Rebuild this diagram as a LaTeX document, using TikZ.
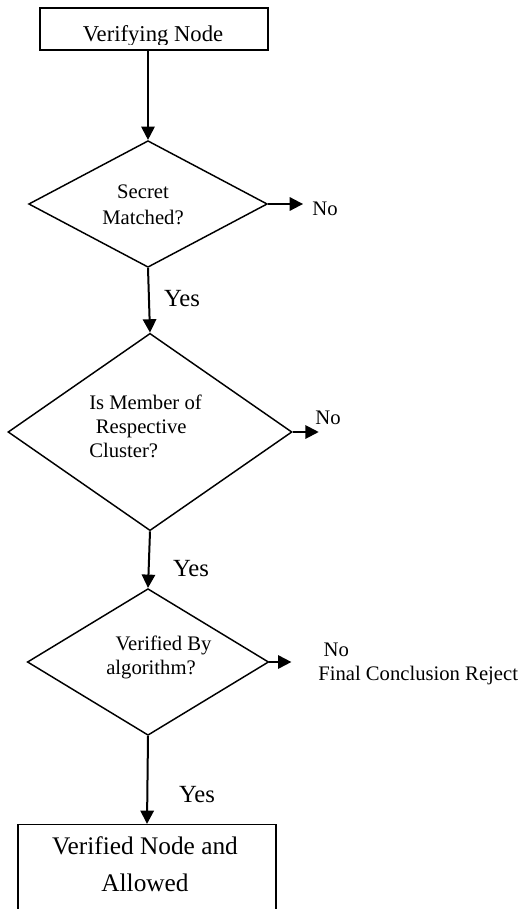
\documentclass[tikz,border=0pt]{standalone}
\usepackage{fontspec}
\setmainfont{Liberation Serif}
\usetikzlibrary{shapes.geometric,arrows.meta}

\begin{document}
\begin{tikzpicture}[x=0.75pt,y=-0.75pt,>={Triangle[length=10pt,width=10pt]},line join=miter,
	dia/.style={draw,shape=diamond,inner sep=0pt,line width=1.1pt},
	box/.style={draw,rectangle,inner sep=0pt,line width=1.1pt},
	txt/.style={font=\fontsize{15.5}{18}\selectfont,inner sep=0pt},
	yes/.style={font=\fontsize{18.5}{22}\selectfont,inner sep=0pt},
	flow/.style={->,line width=1.5pt}]
	\clip (0,0) rectangle (525,909);
	% start box, text runs under its lower edge
	\node[box,minimum width=171pt,minimum height=31.5pt] (vnode) at (154,29) {};
	\begin{scope}
		\clip (40,8) rectangle (268,45);
		\node[font=\fontsize{17}{20}\selectfont,inner sep=0pt,anchor=base] (vtext) at (153,42) {Verifying Node};
	\end{scope}
	% decisions
	\node[dia,minimum width=179pt,minimum height=95pt] (secret) at (148,204) {};
	\node[txt,align=center,font=\fontsize{15.5}{19.5}\selectfont] (secrettxt) at (143,205) {Secret\\Matched?};
	\node[dia,minimum width=213pt,minimum height=148pt] (member) at (150,432) {};
	\node[txt,align=left,anchor=west] (membertxt) at (89,426) {Is Member of\\\hspace*{5pt}Respective\\Cluster?};
	\node[dia,minimum width=181pt,minimum height=110pt] (algo) at (148,662) {};
	\node[txt,align=left,anchor=west] (algotxt) at (106,657) {\hspace*{7pt}Verified By\\algorithm?};
	% end box
	\node[box,minimum width=193.5pt,minimum height=101pt] (allowed) at (147,892) {};
	\node[inner sep=0pt,align=center,font=\fontsize{19}{27.75}\selectfont] (allowedtxt) at (145,864) {Verified Node and\\Allowed};
	% yes path
	\draw[flow] (secret.north |- vnode.south) -- (secret.north);
	\draw[flow] (secret.south) -- (member.north);
	\draw[flow] (member.south) -- (algo.north);
	\draw[flow] (algo.south) -- (allowed.north);
	\node[yes] (yes1) at (182,299) {Yes};
	\node[yes] (yes2) at (191,569) {Yes};
	\node[yes] (yes3) at (197,795) {Yes};
	% no branches
	\draw[flow] (secret.east) -- ++(35,0);
	\draw[flow] (member.east) -- ++(26,0);
	\draw[flow] (algo.east) -- ++(22,0);
	\node[txt] (no1) at (325,209) {No};
	\node[txt] (no2) at (328,418) {No};
	\node[txt,align=left,anchor=west] (no3) at (318,664) {\hspace*{4pt}No\\Final Conclusion Reject};
\end{tikzpicture}
\end{document}
